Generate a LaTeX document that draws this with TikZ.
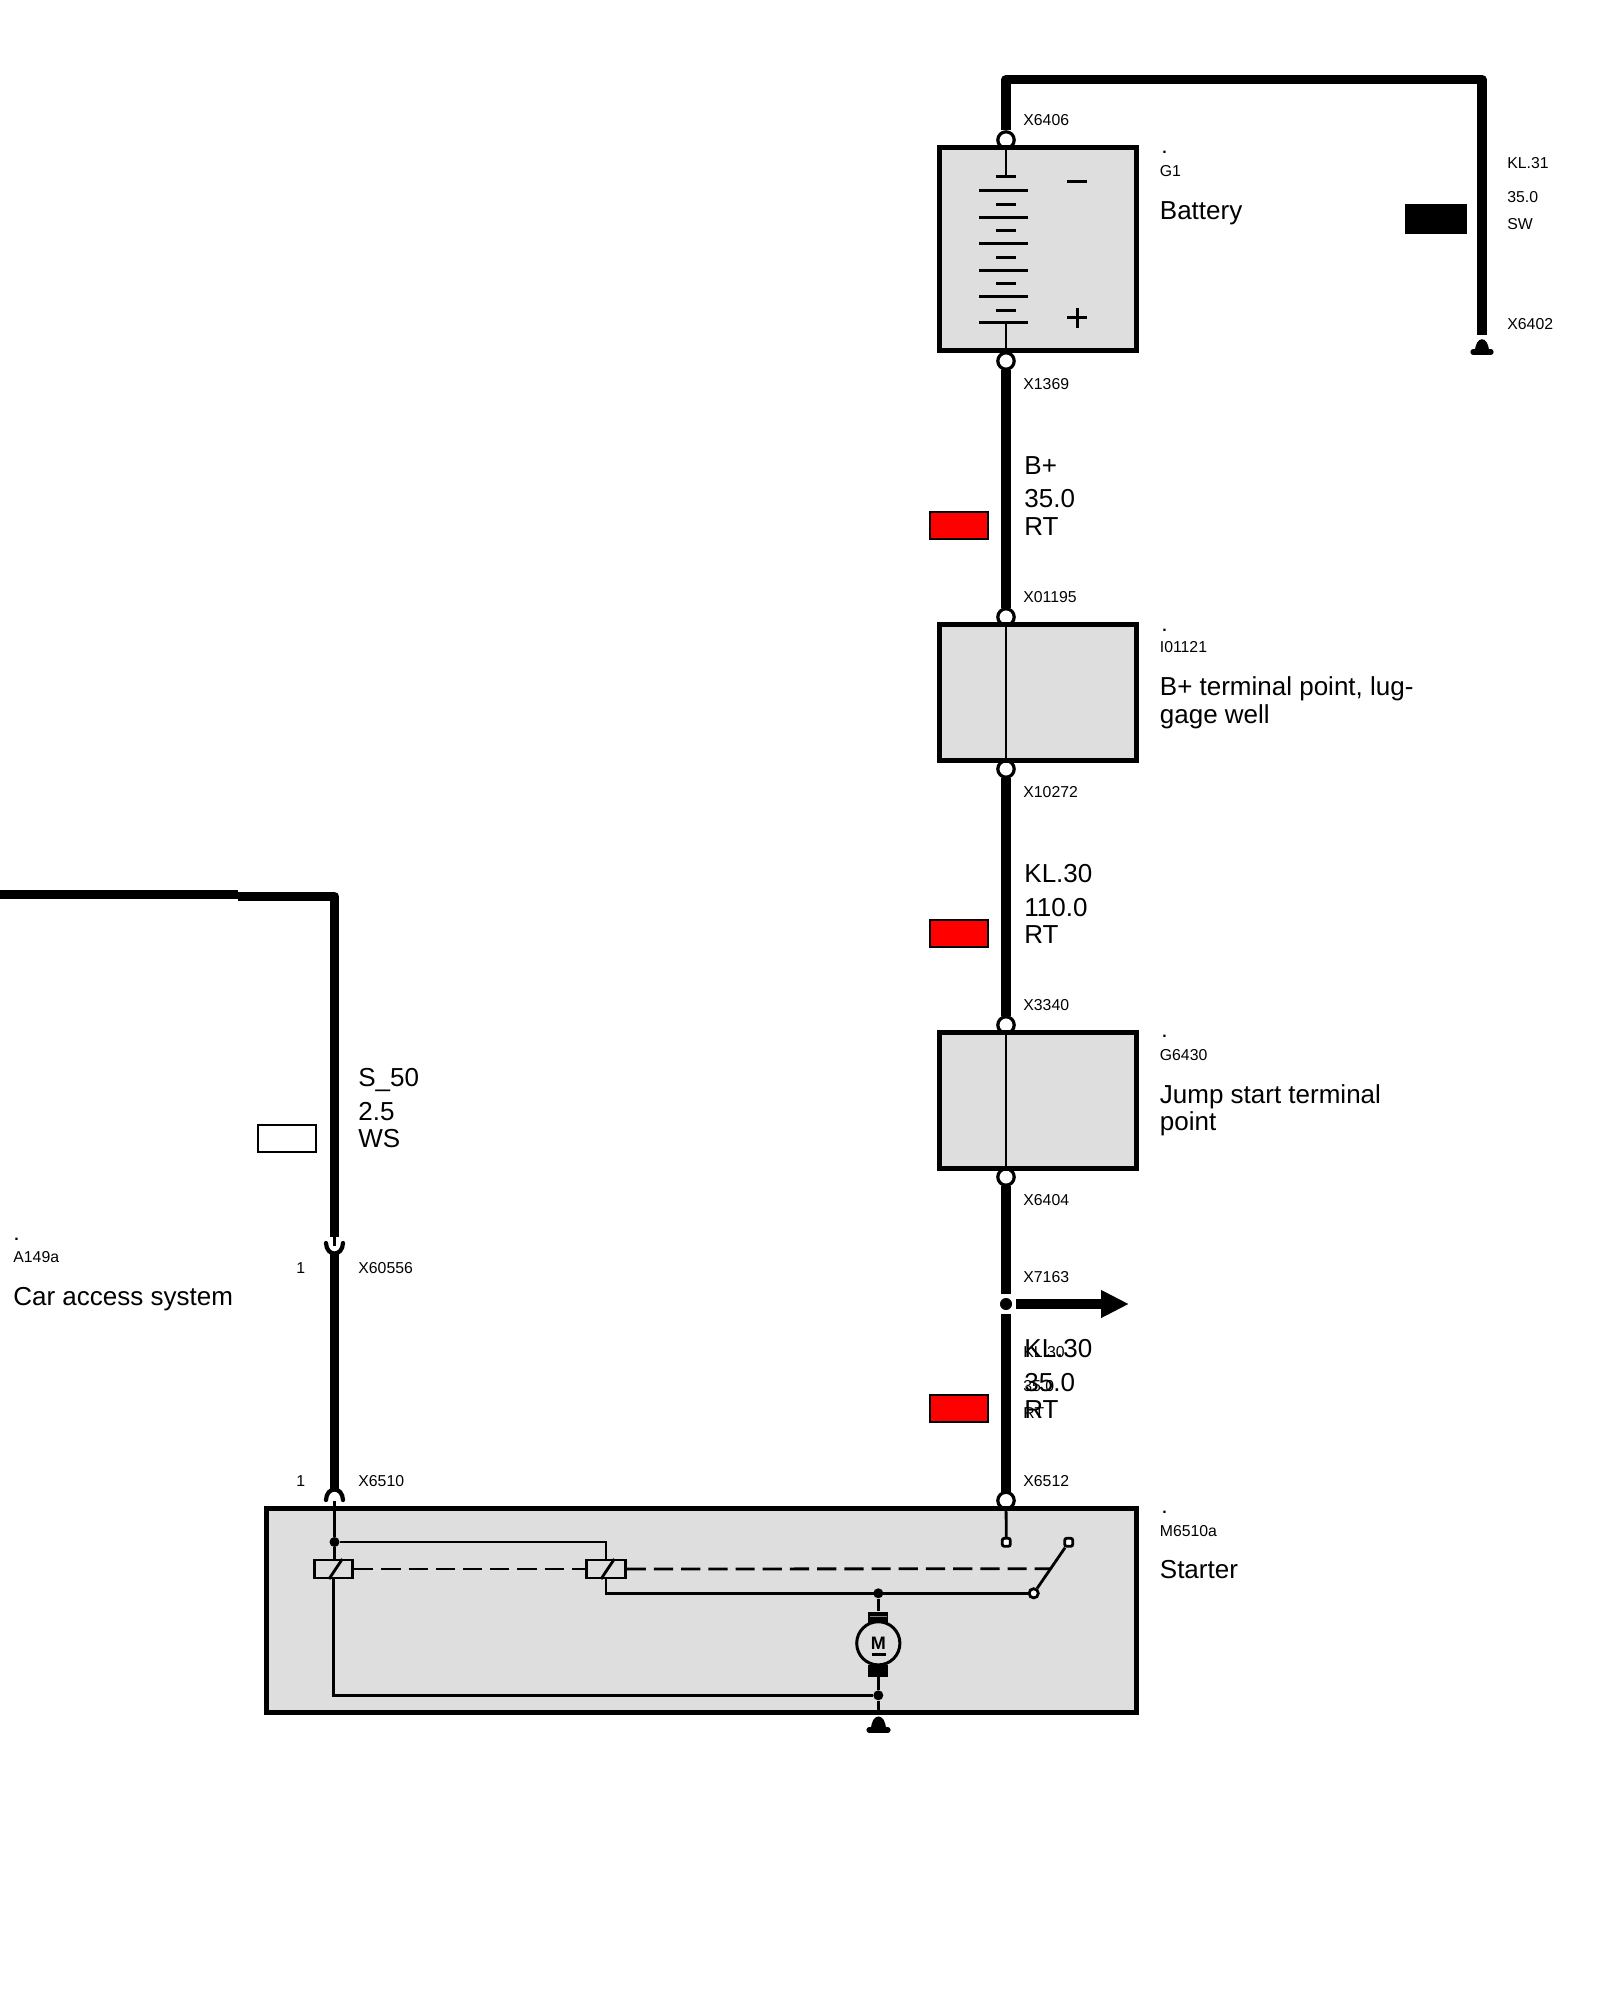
\documentclass[tikz,border=0pt]{standalone}
\usepackage{fontspec}
\setmainfont{Liberation Sans}
\usetikzlibrary{arrows.meta, positioning}
\definecolor{boxgray}{RGB}{222,222,222}
\definecolor{swred}{RGB}{255,0,0}
\tikzset{
  lblsmall/.style={anchor=base west, inner sep=0pt, font=\fontsize{7.9}{9.6}\selectfont},
  lblbig/.style={anchor=base west, inner sep=0pt, align=left, font=\fontsize{13}{14}\selectfont},
  wire/.style={line width=4.6pt, line join=round},
  thinwire/.style={line width=1.4pt},
  pinring/.style={circle, draw, fill=white, line width=1.6pt, minimum size=8.2pt, inner sep=0pt},
  contact/.style={rounded corners=1pt, draw, fill=white, line width=1.4pt, minimum size=4pt, inner sep=0pt},
  jdot/.style={circle, fill=black, minimum size=5pt, inner sep=0pt},
  unitbox/.style={draw, fill=boxgray, line width=2.5pt, inner sep=0pt, minimum width=98.5pt},
  swatch/.style={draw, line width=1pt, inner sep=0pt, minimum width=28.9pt, minimum height=13.2pt},
  coil/.style={draw, line width=1.4pt, inner sep=0pt, minimum width=19.3pt, minimum height=9pt},
  linkdash/.style={line width=1.4pt, dash pattern=on 9.6pt off 4pt},
  brush/.style={fill=black, inner sep=0pt, minimum width=10pt},
}
\begin{document}
\begin{tikzpicture}[x=0.5pt, y=-0.5pt]
  \useasboundingbox (0,0) rectangle (1600,2000);

  % Connector rings go first, the units hide part of them
  \node[pinring] (x6406) at (1006,140) {};
  \node[pinring] (x1369) at (1006,361) {};
  \node[pinring] (x01195) at (1006,617) {};
  \node[pinring] (x10272) at (1006,769) {};
  \node[pinring] (x3340) at (1006,1025) {};
  \node[pinring] (x6404) at (1006,1177) {};
  \node[pinring] (x6512) at (1006,1500.5) {};

  % Units
  \node[unitbox, minimum height=101.75pt] (g1) at (1037.5,249.25) {};
  \node[unitbox, minimum height=67.9pt] (i01121) at (1037.5,692.6) {};
  \node[unitbox, minimum height=67.9pt] (g6430) at (1037.5,1100.6) {};
  \node[unitbox, minimum width=435pt, minimum height=102pt] (m6510a) at (701.7,1610.3) {};

  % Battery cells
  \coordinate (g1stemtop) at (1006,177);
  \coordinate (g1stembot) at (1006,322.3);
  \draw[thinwire] (x6406) -- (g1stemtop);
  \draw[thinwire] (g1stembot) -- (x1369);
  \foreach \yy in {190.3,217.3,243.3,270.3,296.3,322.3}
    \draw[line width=1.5pt] (979,\yy) -- (1028,\yy);
  \foreach \yy in {177,204.3,230.3,257.3,283.3,310.3}
    \draw[line width=1.5pt] (996,\yy) -- (1016,\yy);
  \draw[line width=1.5pt] (1067,182) -- (1087,182);
  \draw[line width=1.5pt] (1067,318) -- (1087,318);
  \draw[line width=1.5pt] (1077,308) -- (1077,328);

  % Feed through the terminal points
  \draw[thinwire] (x01195) -- (x10272);
  \draw[thinwire] (x3340) -- (x6404);

  % Ground wire KL.31
  \coordinate (kl31top) at (1482,79.5);
  \coordinate (gnd31) at (1482,335);
  \draw[wire] (x6406.north) |- (kl31top) -- (gnd31);
  \fill (1475,352) .. controls (1475,335) and (1489,335) .. (1489,352) -- cycle;
  \draw[line width=2.6pt, line cap=round] (1473,352) -- (1491,352);
  \node[swatch, fill=black, minimum width=30pt, minimum height=14pt] (swsw) at (1435.5,219.5) {};

  % Main wires
  \draw[wire, shorten <=-0.5pt, shorten >=-0.5pt] (x1369.south) -- (x01195.north);
  \draw[wire, shorten <=-0.5pt, shorten >=-0.5pt] (x10272.south) -- (x3340.north);
  \node[swatch, fill=swred] (swrt1) at (958.8,525.5) {};
  \node[swatch, fill=swred] (swrt2) at (958.8,933.3) {};
  \node[swatch, fill=swred] (swrt3) at (958.8,1408.5) {};

  % Branch point
  \node[circle, fill=black, draw=white, line width=2pt, minimum size=8.2pt, inner sep=0pt] (x7163) at (1006,1304) {};
  \coordinate (x7163end) at (1129,1304);
  \draw[wire, shorten <=-0.5pt] (x6404.south) -- (x7163.north);
  \draw[wire, shorten >=-0.5pt] (x7163.south) -- (x6512.north);
  \draw[wire, -{Triangle[length=14pt, width=13pt]}] (x7163.east) -- (x7163end);

  % S_50 wire with its two sockets
  \coordinate (s50a) at (0,894.5);
  \coordinate (s50b) at (238,894.5);
  \coordinate (s50c) at (238,896.5);
  \coordinate (x60556top) at (334.5,1237);
  \coordinate (x60556pin) at (334.5,1246);
  \coordinate (x60556bot) at (334.5,1252);
  \coordinate (x6510top) at (334.5,1491);
  \coordinate (x6510pin) at (334.5,1501);
  \draw[wire] (s50a) -- (s50b);
  \draw[wire] (s50c) -| (x60556top);
  \draw[wire] (x60556bot) -- (x6510top);
  \draw[thinwire] (x60556top) -- (x60556pin);
  \draw[line width=2.1pt, line cap=round] (326,1243) .. controls (326.5,1257) and (342.5,1257) .. (343,1243);
  \draw[line width=2.1pt, line cap=round] (326,1500) .. controls (326.5,1486) and (342.5,1486) .. (343,1500);
  \node[swatch, fill=white, minimum width=29pt] (swws) at (286.8,1138.5) {};

  % Starter: solenoid coils
  \node[jdot] (ja) at (334.5,1542) {};
  \node[coil] (coila) at (333.5,1569) {};
  \node[coil] (coilb) at (606,1569) {};
  \draw[thinwire] (x6510pin) -- (ja);
  \draw[thinwire] (ja) -- (ja |- coila.north);
  \draw[thinwire] (ja) -| (coilb.north);
  \draw[thinwire] (329,1579) -- (342.3,1559);
  \draw[thinwire] (601,1579) -- (614.3,1559);

  % Starter: switch contacts
  \node[contact] (ctop) at (1006.3,1542.3) {};
  \node[contact] (cblade) at (1068.7,1542.3) {};
  \node[circle, draw, fill=white, line width=1.4pt, minimum size=4.6pt, inner sep=0pt] (cpivot) at (1033.7,1593.3) {};
  \coordinate (bladept) at (1051,1568.7);
  \draw[thinwire] (x6512) -- (ctop);
  \draw[thinwire] (cpivot) -- (cblade);
  \draw[linkdash] (coila.east) -- (coilb.west);
  \draw[linkdash] (coilb.east) -- (bladept);

  % Starter: motor
  \node[jdot] (jmtop) at (878.3,1593.3) {};
  \node[jdot] (jmbot) at (878.3,1695.3) {};
  \node[brush, minimum height=5.5pt] (brusht) at (878.3,1617) {};
  \node[brush, minimum height=6pt] (brushb) at (878.3,1671) {};
  \node[circle, draw, fill=boxgray, line width=1.5pt, minimum size=21.6pt, inner sep=0pt,
        font=\fontsize{9}{9}\selectfont\bfseries] (motor) at (878.3,1643.3) {M};
  \draw[line width=1.1pt] (871.5,1654.5) -- (885.5,1654.5);
  \draw[gray, line width=0.5pt] (870,1616.5) -- (887,1616.5);
  \draw[thinwire] (coilb.south) |- (cpivot);
  \draw[thinwire] (coila.south) |- (jmbot);
  \draw[thinwire] (jmtop) -- (brusht.north);
  \draw[thinwire] (brushb.south) -- (jmbot);
  \coordinate (m6510gnd) at (878.3,1712);
  \draw[thinwire] (jmbot) -- (m6510gnd);
  \fill (871,1730) .. controls (871,1712) and (885.5,1712) .. (885.5,1730) -- cycle;
  \draw[line width=2.6pt, line cap=round] (869,1730) -- (888,1730);

  % Texts: connectors
  \node[lblsmall] (tx6406) at (1023,126) {X6406};
  \node[lblsmall] (tx1369) at (1023,390) {X1369};
  \node[lblsmall] (tx01195) at (1023,602) {X01195};
  \node[lblsmall] (tx10272) at (1023,797) {X10272};
  \node[lblsmall] (tx3340) at (1023,1010) {X3340};
  \node[lblsmall] (tx6404) at (1023,1205) {X6404};
  \node[lblsmall] (tx7163) at (1023,1282) {X7163};
  \node[lblsmall] (tx6512) at (1023,1486) {X6512};
  \node[lblsmall] (tx6402) at (1507,330) {X6402};
  \node[lblsmall] (tx60556) at (358,1273) {X60556};
  \node[lblsmall] (tx6510) at (358,1486) {X6510};
  \node[lblsmall] (tpin1) at (296,1273) {1};
  \node[lblsmall] (tpin2) at (296,1486) {1};

  % Texts: wires
  \node[lblsmall] (tkl31) at (1507,169) {KL.31};
  \node[lblsmall] (tkl31a) at (1507,203) {35.0};
  \node[lblsmall] (tkl31b) at (1507,230) {SW};
  \node[lblbig] (tbp) at (1024,474) {B+};
  \node[lblbig] (tbpa) at (1024,508) {35.0};
  \node[lblbig] (tbpb) at (1024,535) {RT};
  \node[lblbig] (tkl30) at (1024,882.5) {KL.30};
  \node[lblbig] (tkl30a) at (1024,916) {110.0};
  \node[lblbig] (tkl30b) at (1024,943) {RT};
  \node[lblbig] (tkl30c) at (1024,1357) {KL.30};
  \node[lblbig] (tkl30d) at (1024,1391) {35.0};
  \node[lblbig] (tkl30e) at (1024,1418) {RT};
  \node[lblsmall] (tkl30f) at (1023,1357) {KL.30};
  \node[lblsmall] (tkl30g) at (1023,1391) {35.0};
  \node[lblsmall] (tkl30h) at (1023,1418) {RT};
  \node[lblbig] (ts50) at (358,1086) {S\_50};
  \node[lblbig] (ts50a) at (358,1120) {2.5};
  \node[lblbig] (ts50b) at (358,1147.7) {WS};

  % Texts: units
  \node[lblsmall] (dg1) at (1162,153.5) {\textbf{.}};
  \node[lblsmall] (tg1) at (1159.5,177) {G1};
  \node[lblbig] (ng1) at (1159.5,220) {Battery};
  \node[lblsmall] (di01121) at (1162,631) {\textbf{.}};
  \node[lblsmall] (ti01121) at (1159.5,652) {I01121};
  \node[lblbig] (ni01121) at (1159.5,695) {B+ terminal point, lug-};
  \node[lblbig] (ni01121b) at (1159.5,723) {gage well};
  \node[lblsmall] (dg6430) at (1162,1037.3) {\textbf{.}};
  \node[lblsmall] (tg6430) at (1159.5,1060) {G6430};
  \node[lblbig] (ng6430) at (1159.5,1103.5) {Jump start terminal};
  \node[lblbig] (ng6430b) at (1159.5,1130.5) {point};
  \node[lblsmall] (dm6510a) at (1162,1513.5) {\textbf{.}};
  \node[lblsmall] (tm6510a) at (1159.5,1536) {M6510a};
  \node[lblbig] (nm6510a) at (1159.5,1578.5) {Starter};
  \node[lblsmall] (da149a) at (14,1240) {\textbf{.}};
  \node[lblsmall] (ta149a) at (13,1262) {A149a};
  \node[lblbig] (na149a) at (13,1305) {Car access system};
\end{tikzpicture}
\end{document}
